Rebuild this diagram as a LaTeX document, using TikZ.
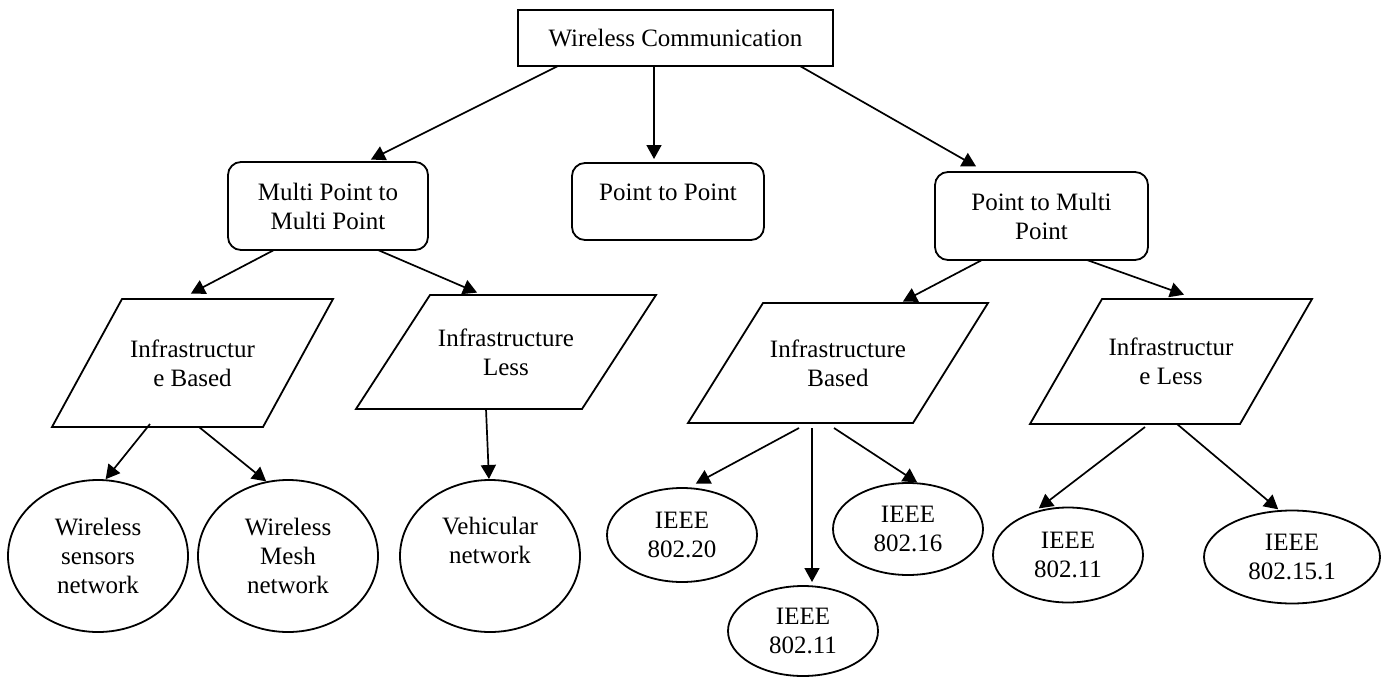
\documentclass[tikz,border=0pt]{standalone}
\usepackage{fontspec}
\setmainfont{Liberation Serif}
\usetikzlibrary{arrows.meta,calc,shapes.geometric}
\newcommand{\paragram}[2]{\draw[line width=1.8pt,line join=miter] (#1.south west) -- ($(#1.south east)+(-#2,0)$) -- (#1.north east) -- ($(#1.north west)+(#2,0)$) -- cycle;}
\begin{document}
\begin{tikzpicture}[x=1pt,y=-1pt,
  every node/.style={font=\fontsize{25}{29}\selectfont, align=center, inner sep=0pt, outer sep=0pt},
  rectbox/.style={draw, line width=1.8pt, rectangle},
  rbox/.style={draw, line width=1.8pt, rectangle, rounded corners=13pt},
  oval/.style={draw, line width=1.8pt, ellipse},
  para/.style={rectangle},
  arr/.style={-{Triangle[length=14pt,width=15pt]}, line width=1.7pt, shorten >=1pt}
]
\useasboundingbox (0,0) rectangle (1383,677);

% level 0
\node[rectbox, minimum width=315pt, minimum height=56pt] (root) at (675.5,38) {Wireless Communication};

% level 1
\node[rbox, minimum width=200pt, minimum height=88pt] (multi) at (328,206) {Multi Point to\\Multi Point};
\node[rbox, minimum width=192pt, minimum height=77pt] (ptp) at (668,201.5) {};
\node (ptptext) at (668,192) {Point to Point};
\node[rbox, minimum width=213pt, minimum height=88pt] (ptmp) at (1041.5,216) {Point to Multi\\Point};

% level 2 (parallelograms)
\node[para, minimum width=281pt, minimum height=128pt] (ibL) at (192.5,363) {Infrastructur\\e Based};
\paragram{ibL}{70}
\node[para, minimum width=300pt, minimum height=114pt] (ilL) at (506,352) {Infrastructure\\Less};
\paragram{ilL}{74}
\node[para, minimum width=300pt, minimum height=120pt] (ibR) at (838,363) {Infrastructure\\Based};
\paragram{ibR}{75}
\node[para, minimum width=282pt, minimum height=125pt] (ilR) at (1171,361.5) {Infrastructur\\e Less};
\paragram{ilR}{72}

% level 3 (ellipses)
\node[oval, minimum width=180pt, minimum height=152pt] (wsn) at (98,556) {Wireless\\sensors\\network};
\node[oval, minimum width=180pt, minimum height=152pt] (wmn) at (288,556) {Wireless\\Mesh\\network};
\node[oval, minimum width=180pt, minimum height=152pt] (veh) at (490,556) {};
\node (vehtext) at (490,540.5) {Vehicular\\network};
\node[oval, minimum width=150pt, minimum height=94pt] (e20) at (682,535) {IEEE\\802.20};
\node[oval, minimum width=150pt, minimum height=90pt] (e11b) at (803,631) {IEEE\\802.11};
\node[oval, minimum width=150pt, minimum height=92pt] (e16) at (908,529) {IEEE\\802.16};
\node[oval, minimum width=150pt, minimum height=95pt] (e11r) at (1068,555) {IEEE\\802.11};
\node[oval, minimum width=176pt, minimum height=93pt] (e15) at (1292,557) {IEEE\\802.15.1};

% connectors
\draw[arr] ($(root.south)+(-117.5,0)$) -- ($(multi.north)+(42,-2)$);
\draw[arr] ($(root.south)+(-21.5,0)$) -- ($(ptp.north)+(-14,-3)$);
\draw[arr] ($(root.south)+(124.5,0)$) -- ($(ptmp.north)+(-64.5,-5)$);

\draw[arr] ($(multi.south)+(-54,0)$) -- ($(ibL.north)+(-2.5,-5)$);
\draw[arr] ($(multi.south)+(50,0)$) -- ($(ilL.north)+(-28,-2)$);
\draw[arr] ($(ptmp.south)+(-59.5,0)$) -- ($(ibR.north)+(64,-1)$);
\draw[arr] ($(ptmp.south)+(45.5,0)$) -- ($(ilR.north)+(14,-4)$);

\draw[arr] ($(ibL.south)+(-42.5,-3)$) -- ($(wsn.center)+(7,-76)$);
\draw[arr] ($(ibL.south)+(6.5,0)$) -- ($(wmn.center)+(-21,-74)$);
\draw[arr] ($(ilL.south)+(-20,0)$) -- ($(veh.center)+(-1,-76)$);

\draw[arr] ($(ibR.south)+(-39,5)$) -- ($(e20.center)+(13,-51)$);
\draw[arr] ($(ibR.south)+(-26,5)$) -- ($(e11b.center)+(9,-48)$);
\draw[arr] ($(ibR.south)+(-4,5)$) -- ($(e16.center)+(10,-46)$);
\draw[arr] ($(ilR.south)+(-26,3)$) -- ($(e11r.center)+(-30,-46)$);
\draw[arr] ($(ilR.south)+(6,0)$) -- ($(e15.center)+(-13,-47)$);
\end{tikzpicture}
\end{document}
